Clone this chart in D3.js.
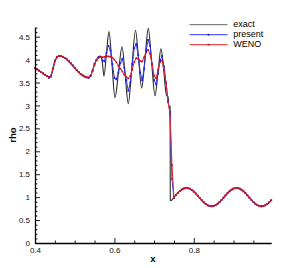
<!DOCTYPE html>
<html><head><meta charset="utf-8">
<script src="https://cdn.jsdelivr.net/npm/d3@7"></script>
<style>
body{margin:0;background:#fff}
svg{display:block}
text{font-family:"Liberation Sans",Arial,Helvetica,sans-serif}
</style>
</head><body>
<svg id="c" width="303" height="268"></svg>
<script>
// ---- data ----
const gridX = [
0.400,0.405,0.410,0.415,0.420,0.425,0.430,0.435,0.440,0.445,
0.450,0.455,0.460,0.465,0.470,0.475,0.480,0.485,0.490,0.495,
0.500,0.505,0.510,0.515,0.520,0.525,0.530,0.535,0.540,0.545,
0.550,0.555,0.560,0.565,0.570,0.575,0.580,0.585,0.590,0.595,
0.600,0.605,0.610,0.615,0.620,0.625,0.630,0.635,0.640,0.645,
0.650,0.655,0.660,0.665,0.670,0.675,0.680,0.685,0.690,0.695,
0.700,0.705,0.710,0.715,0.720,0.725,0.730,0.735,0.740,0.745,
0.750,0.755,0.760,0.765,0.770,0.775,0.780,0.785,0.790,0.795,
0.800,0.805,0.810,0.815,0.820,0.825,0.830,0.835,0.840,0.845,
0.850,0.855,0.860,0.865,0.870,0.875,0.880,0.885,0.890,0.895,
0.900,0.905,0.910,0.915,0.920,0.925,0.930,0.935,0.940,0.945,
0.950,0.955,0.960,0.965,0.970,0.975,0.980,0.985,0.990,0.995];

const wenoRho = [
3.82,3.79,3.76,3.73,3.70,3.67,3.64,3.62,3.65,3.80,
3.96,4.05,4.08,4.076,4.061,4.037,4.004,3.964,3.919,3.871,
3.821,3.772,3.727,3.687,3.655,3.630,3.615,3.612,3.65,3.75,
3.89,3.99,4.04,4.06,4.05,4.06,4.07,4.07,4.06,4.04,
4.00,3.94,3.87,3.80,3.74,3.67,3.62,3.59,3.64,3.78,
3.95,4.03,4.02,3.97,3.96,4.05,4.16,4.21,4.12,3.90,
3.65,3.60,3.78,3.95,3.98,3.78,3.50,3.08,2.82,1.70,
0.98,1.048,1.095,1.135,1.167,1.189,1.199,1.197,1.183,1.157,
1.121,1.078,1.031,0.981,0.933,0.888,0.851,0.822,0.805,0.800,
0.807,0.826,0.856,0.895,0.940,0.990,1.039,1.086,1.128,1.162,
1.186,1.198,1.199,1.186,1.163,1.129,1.087,1.040,0.991,0.941,
0.896,0.857,0.827,0.808,0.800,0.805,0.822,0.850,0.887,0.932];

const presentRho = [
3.82,3.79,3.76,3.73,3.70,3.67,3.64,3.60,3.63,3.81,
3.98,4.06,4.08,4.076,4.061,4.037,4.004,3.964,3.919,3.871,
3.821,3.772,3.727,3.687,3.655,3.630,3.612,3.600,3.64,3.76,
3.91,3.99,4.05,4.06,3.98,3.96,4.15,4.30,4.20,3.90,
3.60,3.57,3.72,3.92,4.02,3.82,3.55,3.32,3.50,3.90,
4.25,4.34,4.10,3.72,3.55,3.80,4.20,4.43,4.30,3.90,
3.55,3.46,3.70,3.98,4.08,3.85,3.50,3.10,2.86,1.40,
0.98,1.048,1.095,1.135,1.167,1.189,1.199,1.197,1.183,1.157,
1.121,1.078,1.031,0.981,0.933,0.888,0.851,0.822,0.805,0.800,
0.807,0.826,0.856,0.895,0.940,0.990,1.039,1.086,1.128,1.162,
1.186,1.198,1.199,1.186,1.163,1.129,1.087,1.040,0.991,0.941,
0.896,0.857,0.827,0.808,0.800,0.805,0.822,0.850,0.887,0.932];

const exactX = [
0.4,0.41763,0.43023,0.43652,0.44030,0.44534,0.45038,0.45542,0.46045,0.47003,
0.48010,0.48992,0.50000,0.51008,0.51990,0.52997,0.53476,0.54005,0.54509,0.55013,
0.55491,0.55995,0.56448,0.56877,0.57380,0.58010,0.58640,0.59395,0.60151,0.61033,
0.61914,0.62720,0.63501,0.64408,0.65315,0.66096,0.66877,0.67708,0.68539,0.69370,
0.70227,0.70982,0.71738,0.72443,0.73123,0.73375,0.73552,0.73627,0.73955,0.74030,
0.74081,0.74207,0.75013,0.76,0.77,0.78,0.79,0.80,0.81,0.82,
0.83,0.84,0.85,0.86,0.87,0.88,0.89,0.90,0.91,0.92,
0.93,0.94,0.95,0.96,0.97,0.98,0.99,0.995];
const exactRho = [
3.82,3.71,3.64,3.61,3.64,3.78,3.96,4.05,4.08,4.061,
4.004,3.919,3.821,3.727,3.655,3.615,3.61,3.65,3.76,3.90,
4.00,4.06,4.08,4.00,3.64,4.15,4.61,3.89,3.17,3.72,
4.28,3.66,3.04,3.84,4.64,4.01,3.38,4.03,4.68,3.95,
3.21,3.72,4.24,3.74,3.22,3.20,3.18,3.00,2.98,2.98,
0.93,0.92,1.00,1.095,1.167,1.199,1.183,1.121,1.031,0.933,
0.851,0.805,0.807,0.856,0.940,1.039,1.128,1.186,1.199,1.163,
1.087,0.991,0.896,0.827,0.800,0.822,0.887,0.932];

const xMajorTicks = [0.4, 0.6, 0.8];
const xMinorTicks = [0.45,0.5,0.55,0.65,0.7,0.75,0.85,0.9,0.95];
const yMajorTicks = [0,0.5,1,1.5,2,2.5,3,3.5,4,4.5];
const yMinorTicks = [0.1,0.2,0.3,0.4,0.6,0.7,0.8,0.9,1.1,1.2,1.3,1.4,1.6,1.7,1.8,1.9,
  2.1,2.2,2.3,2.4,2.6,2.7,2.8,2.9,3.1,3.2,3.3,3.4,3.6,3.7,3.8,3.9,4.1,4.2,4.3,4.4,4.6,4.7];
const seriesNames = ["exact","present","WENO"];
const xTitle = "x", yTitle = "rho";

// ---- drawing ----
const svg = d3.select("#c");
const x = d3.scaleLinear().domain([0.4, 0.995]).range([35, 271.2]);
const y = d3.scaleLinear().domain([0, 4.7]).range([243, 27.5]);

const colors = {exact:"#2a2a2a", present:"#3434ff", WENO:"#e4262a"};
const markerColors = {present:"#1c1ce0", WENO:"#c81418"};

const plot = svg.append("g");

const exactData = exactX.map((v,i)=>[v, exactRho[i]]);
const presentData = gridX.map((v,i)=>[v, presentRho[i]]);
const wenoData = gridX.map((v,i)=>[v, wenoRho[i]]);

plot.append("path").datum(exactData)
  .attr("fill","none").attr("stroke",colors.exact).attr("stroke-width",1.1)
  .attr("d", d3.line().x(d=>x(d[0])).y(d=>y(d[1])).curve(d3.curveMonotoneX));

function drawSeries(data, name){
  const g = plot.append("g");
  g.append("path").datum(data)
    .attr("fill","none").attr("stroke",colors[name]).attr("stroke-width",1)
    .attr("d", d3.line().x(d=>x(d[0])).y(d=>y(d[1])));
  g.selectAll("rect").data(data).join("rect")
    .attr("x", d=>x(d[0])-0.9).attr("y", d=>y(d[1])-0.9)
    .attr("width",1.8).attr("height",1.8)
    .attr("fill", markerColors[name]);
}
drawSeries(presentData, "present");
drawSeries(wenoData, "WENO");

// axes
const fmt = d3.format("");
const yAxis = svg.append("g").attr("transform","translate(35,0)")
  .call(d3.axisLeft(y).tickValues(yMajorTicks).tickSize(-5).tickSizeOuter(0).tickPadding(5).tickFormat(fmt));
const yMinor = svg.append("g").attr("transform","translate(35,0)")
  .call(d3.axisLeft(y).tickValues(yMinorTicks).tickSize(-2.5).tickSizeOuter(0).tickFormat(""));
const xAxis = svg.append("g").attr("transform","translate(0,243)")
  .call(d3.axisBottom(x).tickValues(xMajorTicks).tickSize(-5).tickSizeOuter(0).tickPadding(4).tickFormat(fmt));
const xMinor = svg.append("g").attr("transform","translate(0,243)")
  .call(d3.axisBottom(x).tickValues(xMinorTicks).tickSize(-2.5).tickSizeOuter(0).tickFormat(""));

[yAxis,yMinor,xAxis,xMinor].forEach(a=>{
  a.selectAll(".domain").attr("stroke","#000").attr("stroke-width",1.3);
  a.selectAll(".tick line").attr("stroke","#000").attr("stroke-width",0.9);
  a.selectAll("text").attr("font-size",8).attr("fill","#111")
    .attr("font-family",'"Liberation Sans",Arial,sans-serif');
});
yMinor.select(".domain").remove();
xMinor.select(".domain").remove();

// axis titles
svg.append("text").attr("x",153).attr("y",261.5).attr("text-anchor","middle")
  .attr("font-size",9.5).attr("font-weight","bold").text(xTitle);
svg.append("text").attr("transform","translate(15.5,135) rotate(-90)").attr("text-anchor","middle")
  .attr("font-size",9.5).attr("font-weight","bold").text(yTitle);

// legend
const legY = [24.7, 34.7, 44.7];
seriesNames.forEach((n,i)=>{
  const g = svg.append("g");
  g.append("line").attr("x1",189.5).attr("x2",227.5).attr("y1",legY[i]).attr("y2",legY[i])
    .attr("stroke", n==="exact" ? "#666" : colors[n]).attr("stroke-width",1);
  if(n!=="exact"){
    g.append("rect").attr("x",208.5-0.9).attr("y",legY[i]-0.9).attr("width",1.8).attr("height",1.8)
      .attr("fill",markerColors[n]);
  }
  g.append("text").attr("x",233.3).attr("y",legY[i]+2.7).attr("font-size",9).attr("fill","#000").text(n);
});
</script>
</body></html>
